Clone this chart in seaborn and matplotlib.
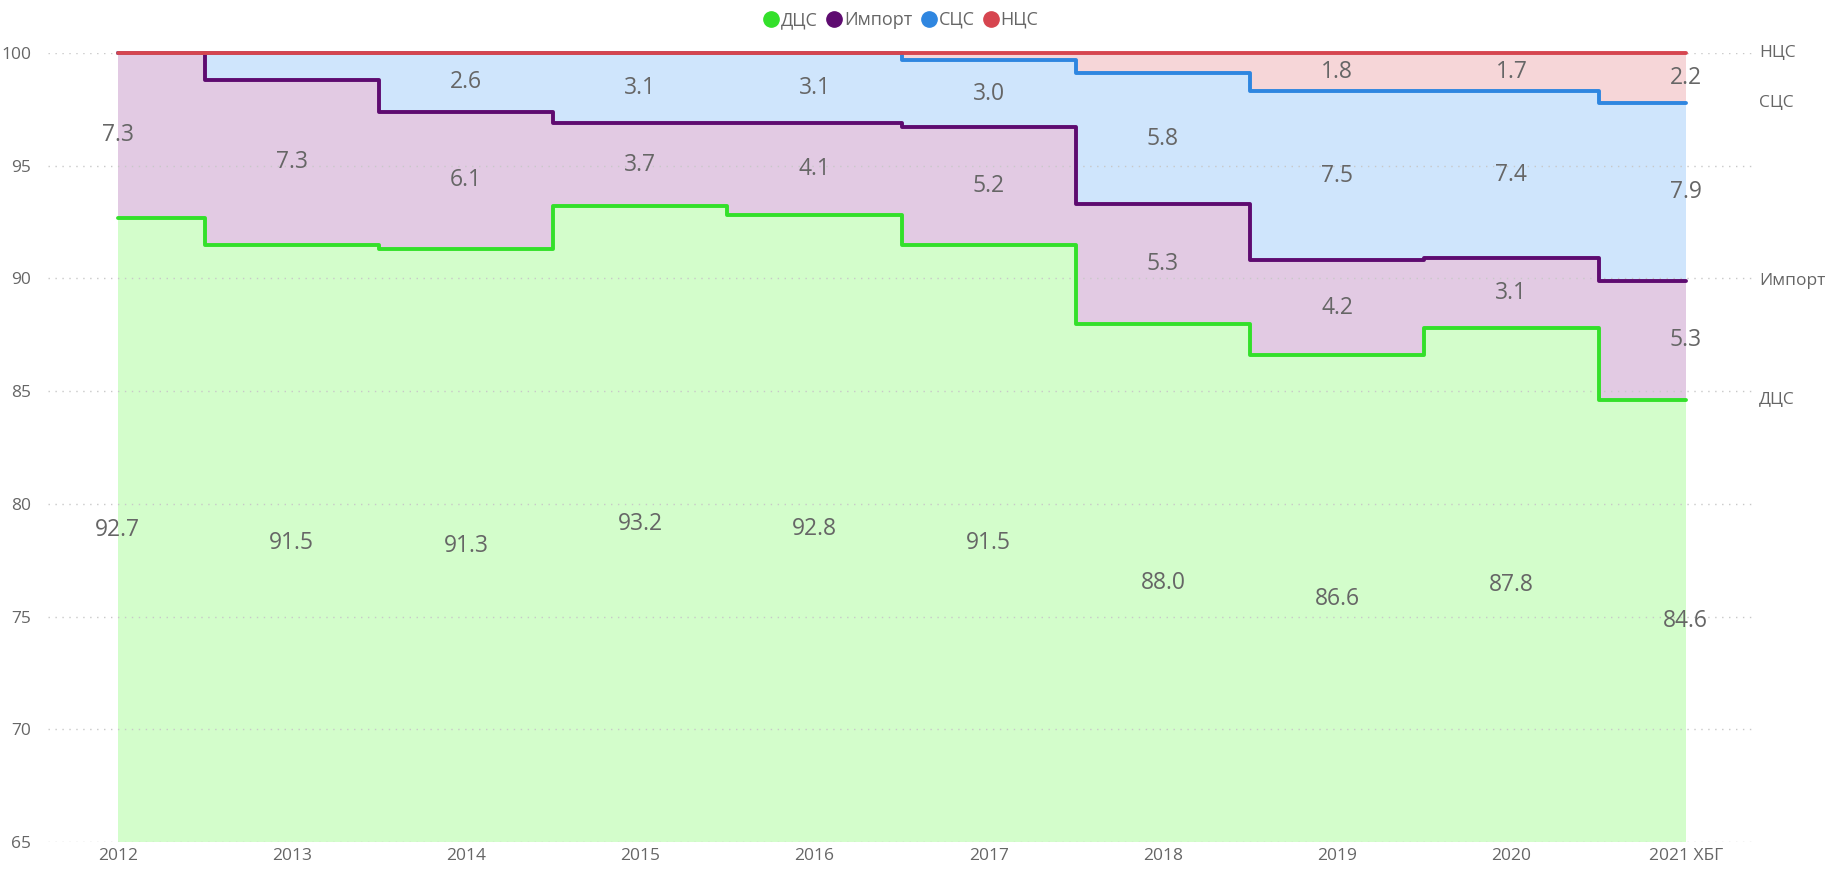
import matplotlib
matplotlib.use("Agg")
import matplotlib.pyplot as plt
import matplotlib.transforms as mtransforms
from matplotlib.lines import Line2D
import numpy as np
import pandas as pd
import seaborn as sns

years = [2012, 2013, 2014, 2015, 2016, 2017, 2018, 2019, 2020, 2021]
year_labels = ["2012", "2013", "2014", "2015", "2016", "2017", "2018", "2019", "2020", "2021 ХБГ"]

dcs = [92.7, 91.5, 91.3, 93.2, 92.8, 91.5, 88.0, 86.6, 87.8, 84.6]
imp = [7.3, 7.3, 6.1, 3.7, 4.1, 5.2, 5.3, 4.2, 3.1, 5.3]
scs = [0.0, 1.2, 2.6, 3.1, 3.1, 3.0, 5.8, 7.5, 7.4, 7.9]
ncs = [0.0, 0.0, 0.0, 0.0, 0.0, 0.3, 0.9, 1.8, 1.7, 2.2]

series_names = ["ДЦС", "Импорт", "СЦС", "НЦС"]
line_colors = ["#33E02A", "#5E0B70", "#2F86E0", "#D6454F"]
fill_colors = ["#D3FDCB", "#E2CAE3", "#CFE5FC", "#F6D6D8"]
text_color = "#666666"

sns.set_theme(style="white")
plt.rcParams["font.family"] = ["Open Sans", "DejaVu Sans"]

df = pd.DataFrame({"year": years, "ДЦС": dcs, "Импорт": imp, "СЦС": scs, "НЦС": ncs})
cum = df[series_names].cumsum(axis=1)
cum["НЦС"] = 100.0  # shares add up to 100 (rounded labels)

fig = plt.figure(figsize=(18.3, 8.69), dpi=100)
ax = fig.add_axes([0.0262, 0.031, 0.933, 0.908])
ymin = 65

x = df["year"].to_numpy()
prev = np.full(len(x), 0.0)
for name, fc in zip(series_names, fill_colors):
    top = cum[name].to_numpy()
    ax.fill_between(x, prev, top, step="mid", color=fc, linewidth=0, zorder=1)
    prev = top

for name, lc in zip(series_names, line_colors):
    sns.lineplot(x=x, y=cum[name].to_numpy(), drawstyle="steps-mid", color=lc,
                 linewidth=2.8, ax=ax, zorder=3, clip_on=False)

# data labels in the middle of the visible band
prev = np.full(len(x), float(ymin))
for name in series_names:
    top = cum[name].to_numpy()
    vals = df[name].to_numpy()
    for xi, lo, hi, v in zip(x, prev, top, vals):
        if v >= 1.5:
            ax.text(xi, (lo + hi) / 2, f"{v:.1f}", ha="center", va="center",
                    fontsize=16.5, color=text_color, zorder=4)
    prev = top

# series names at the right side
trans = mtransforms.blended_transform_factory(ax.transAxes, ax.transData)
for name in series_names:
    ax.text(1.002, cum[name].iloc[-1], name, transform=trans, ha="left", va="center",
            fontsize=12.5, color=text_color)

ax.set_xlim(2011.6, 2021.4)
ax.set_ylim(ymin, 100)
ax.set_yticks(range(65, 101, 5))
ax.set_xticks(years)
ax.set_xticklabels(year_labels)
ax.tick_params(axis="both", labelsize=12.5, colors=text_color, length=0)
ax.tick_params(axis="y", pad=12)
ax.tick_params(axis="x", pad=4)
for yv in range(65, 101, 5):
    ax.axhline(yv, color="#C8C8C8", linestyle=(0, (1, 4)), linewidth=1, zorder=2)
for s in ax.spines.values():
    s.set_visible(False)
ax.set_xlabel("")
ax.set_ylabel("")

handles = [Line2D([], [], marker="o", linestyle="", markersize=11, color=c) for c in line_colors]
fig.legend(handles, series_names, loc="center", bbox_to_anchor=(0.492, 0.977), ncol=4,
           frameon=False, fontsize=13, handletextpad=0.05, columnspacing=0.4,
           labelcolor=text_color, handlelength=1.0)

fig.savefig("out.png", dpi=100)
